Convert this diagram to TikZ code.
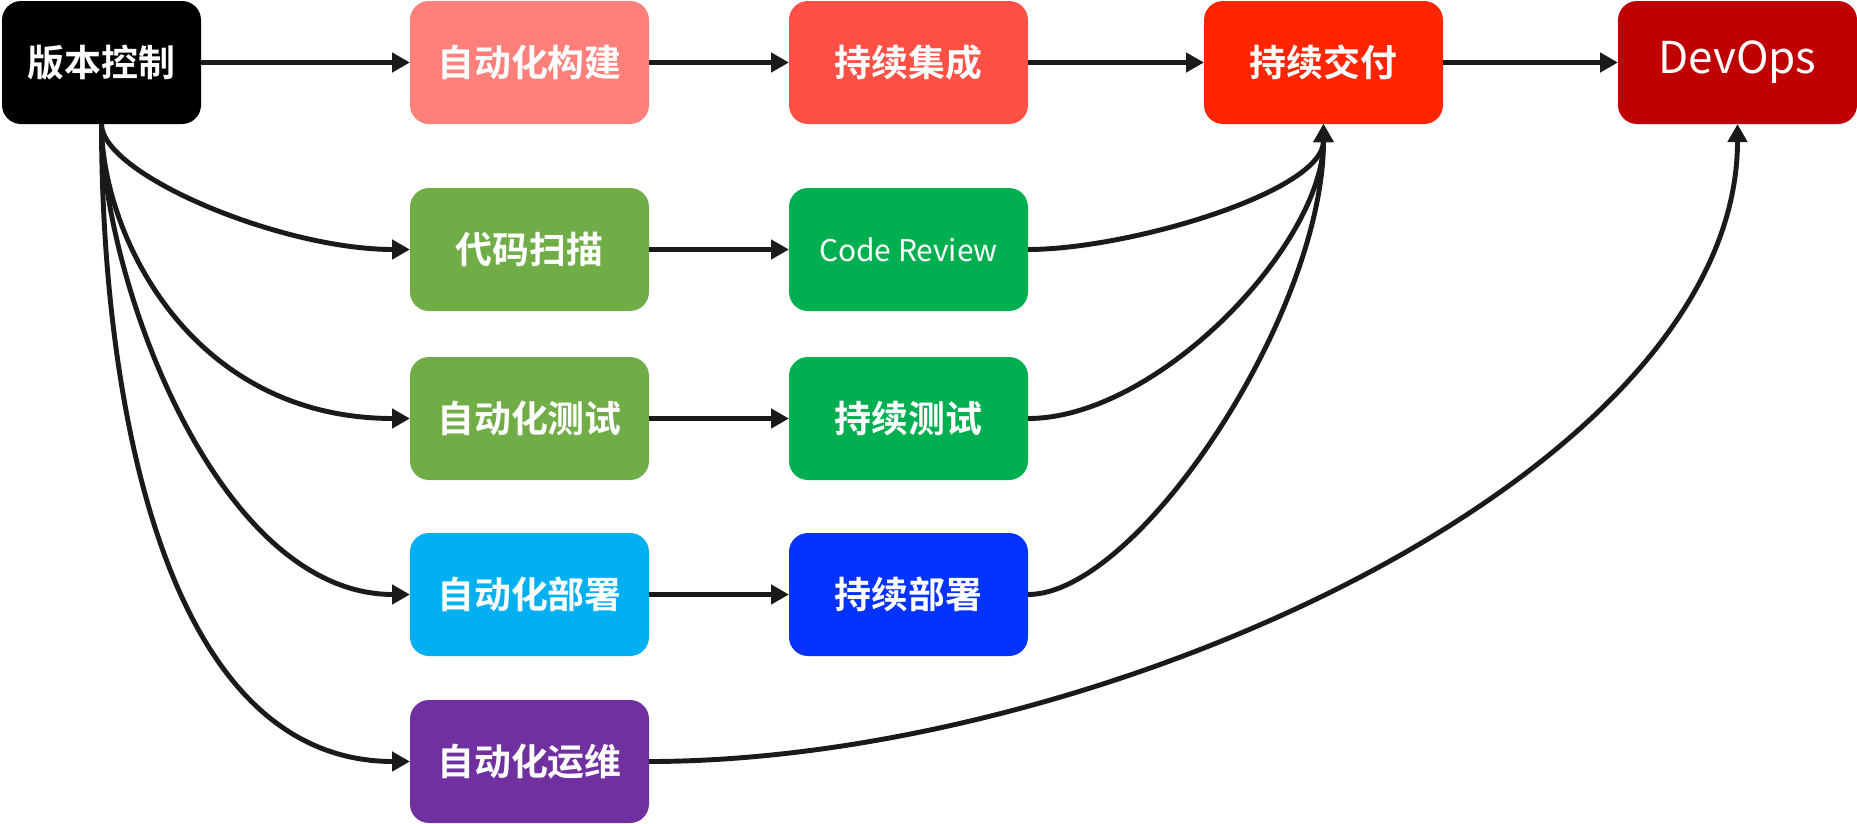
\documentclass[tikz,border=0pt]{standalone}
\usepackage{fontspec}
\usepackage{xcolor}
\usetikzlibrary{arrows.meta, positioning}
\setmainfont{Noto Sans CJK SC}[BoldFont={Noto Sans CJK SC Bold}]
\definecolor{vcblack}{HTML}{000000}
\definecolor{buildred}{HTML}{FF7F7A}
\definecolor{cired}{HTML}{FF5046}
\definecolor{cdred}{HTML}{FF2500}
\definecolor{devred}{HTML}{C00000}
\definecolor{autogreen}{HTML}{70AD47}
\definecolor{cgreen}{HTML}{00B050}
\definecolor{deplight}{HTML}{00B0F0}
\definecolor{depblue}{HTML}{0432FF}
\definecolor{opspurple}{HTML}{7030A0}
\definecolor{linegray}{HTML}{1A1A1A}
\tikzset{> = { Triangle[length = 3.6mm, width = 3.8mm] }}

\begin{document}
\begin{tikzpicture}[->, line width = 2.8pt, draw = linegray,
		box/.style = { draw = none, rounded corners = 0.38cm, text = white, font = \bfseries\fontsize{21}{24}\selectfont, minimum width = 4.78cm, minimum height = 2.46cm, inner sep = 0pt, outer sep = 0pt }]
		\useasboundingbox (0,0) rectangle (37.14,-16.48);

		\node [box, fill = vcblack, minimum width = 3.98cm] (vc) at (2.03,-1.25) {版本控制};
		\node [box, fill = buildred,  right = 4.18cm of vc] (gj) {自动化构建};
		\node [box, fill = cired,     right = 2.8cm of gj]  (jc) {持续集成};
		\node [box, fill = cdred,     right = 3.52cm of jc] (jf) {持续交付};
		\node [box, fill = devred,    right = 3.5cm of jf, font = \fontsize{25}{30}\selectfont] (dv) {DevOps};

		\node [box, fill = autogreen, below = 1.28cm of gj] (ds) {代码扫描};
		\node [box, fill = autogreen, below = 0.92cm of ds] (zc) {自动化测试};
		\node [box, fill = deplight,  below = 1.06cm of zc] (zb) {自动化部署};
		\node [box, fill = opspurple, below = 0.88cm of zb] (yw) {自动化运维};

		\node [box, fill = cgreen, right = 2.8cm of ds, font = \fontsize{17}{21}\selectfont] (cr) {Code Review};
		\node [box, fill = cgreen, right = 2.8cm of zc] (cs) {持续测试};
		\node [box, fill = depblue, right = 2.8cm of zb] (cb) {持续部署};

		\draw (vc) -- (gj);
		\draw (gj) -- (jc);
		\draw (jc) -- (jf);
		\draw (jf) -- (dv);

		\draw (ds) -- (cr);
		\draw (zc) -- (cs);
		\draw (zb) -- (cb);

		\draw (vc.south) to [out = -90, in = 180, out distance = 1cm, in distance = 2.6cm] (ds.west);
		\draw (vc.south) to [out = -90, in = 180, out distance = 2.2cm, in distance = 4.4cm] (zc.west);
		\draw (vc.south) to [out = -90, in = 180, out distance = 3cm, in distance = 3.9cm] (zb.west);
		\draw (vc.south) to [out = -90, in = 180, out distance = 5cm, in distance = 5.1cm] (yw.west);

		\draw (cr.east) to [out = 0, in = -90, out distance = 2cm, in distance = 1.36cm] (jf.south);
		\draw (cs.east) to [out = 0, in = -90, out distance = 2.6cm, in distance = 2.4cm] (jf.south);
		\draw (cb.east) to [out = 0, in = -90, out distance = 2.2cm, in distance = 3.8cm] (jf.south);
		\draw (yw.east) to [out = 0, in = -90, out distance = 9cm, in distance = 7cm] (dv.south);
	\end{tikzpicture}
\end{document}
